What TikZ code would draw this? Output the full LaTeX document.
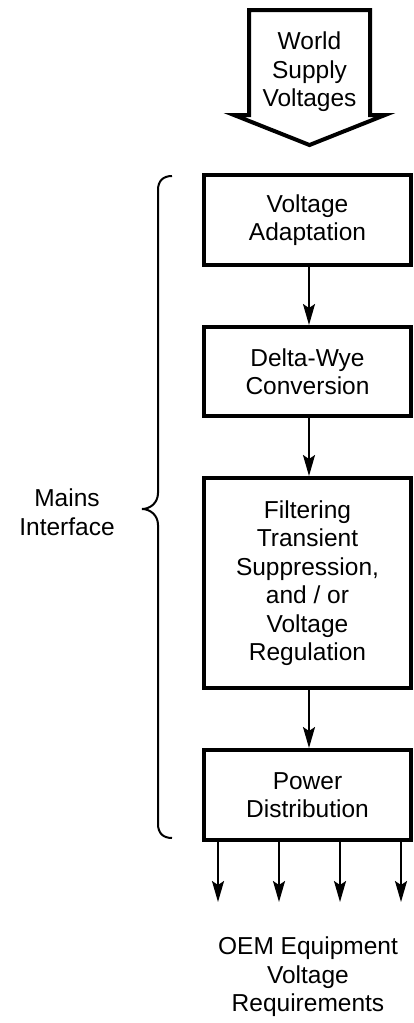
\documentclass[tikz,border=0pt]{standalone}
\usepackage{fontspec}
\setmainfont{Liberation Sans}
\usetikzlibrary{arrows.meta}
\begin{document}
\begin{tikzpicture}[x=1pt,y=-1pt,
  box/.style={draw, line width=4pt},
  lbl/.style={align=center, font=\fontsize{24.5}{28.5}\selectfont, inner sep=0pt},
  conn/.style={line width=2pt, -{Stealth[length=21pt,width=12pt,inset=4pt]}},
  brace/.style={line width=2pt},
  blockarrow/.style={draw, line width=4pt, line join=miter}
]
\useasboundingbox (0,0) rectangle (413,1023);
% top block arrow
\draw[blockarrow] (249,10) -- (370,10) -- (370,115) -- (385,115) -- (309.5,145) -- (234,115) -- (249,115) -- cycle;
\node[lbl] (wsv) at (309.5,72) {World\\Supply\\Voltages};
% boxes
\node[box, lbl, minimum width=207pt, minimum height=90pt] (b1) at (307.5,220) {Voltage\\Adaptation};
\node[box, lbl, minimum width=207pt, minimum height=89pt] (b2) at (307.5,371.5) {Delta-Wye\\Conversion};
\node[box, lbl, minimum width=207pt, minimum height=210pt] (b3) at (307.5,583) {Filtering\\Transient\\Suppression,\\and / or\\Voltage\\Regulation};
\node[box, lbl, minimum width=207pt, minimum height=90pt] (b4) at (307.5,795) {Power\\Distribution};
% connectors
\draw[conn] ([xshift=1.5pt]b1.south) -- ([xshift=1.5pt]b2.north);
\draw[conn] ([xshift=1.5pt]b2.south) -- ([xshift=1.5pt]b3.north);
\draw[conn] ([xshift=1.5pt]b3.south) -- ([xshift=1.5pt]b4.north);
% outputs
\coordinate (e1) at (218,902);
\coordinate (e2) at (279,902);
\coordinate (e3) at (340,902);
\coordinate (e4) at (401,902);
\foreach \e in {e1,e2,e3,e4} \draw[conn] (b4.south -| \e) -- (\e);
\node[lbl] (oem) at (308,977) {OEM Equipment\\Voltage\\Requirements};
% brace
\draw[brace] (172,176) .. controls (163,176) and (158,181) .. (158,190) -- (158,493)
  .. controls (158,503) and (150,509) .. (142,509)
  .. controls (150,509) and (158,515) .. (158,525) -- (158,824)
  .. controls (158,833) and (163,838) .. (172,838);
\node[lbl] (mi) at (67,512) {Mains\\Interface};
\end{tikzpicture}
\end{document}
